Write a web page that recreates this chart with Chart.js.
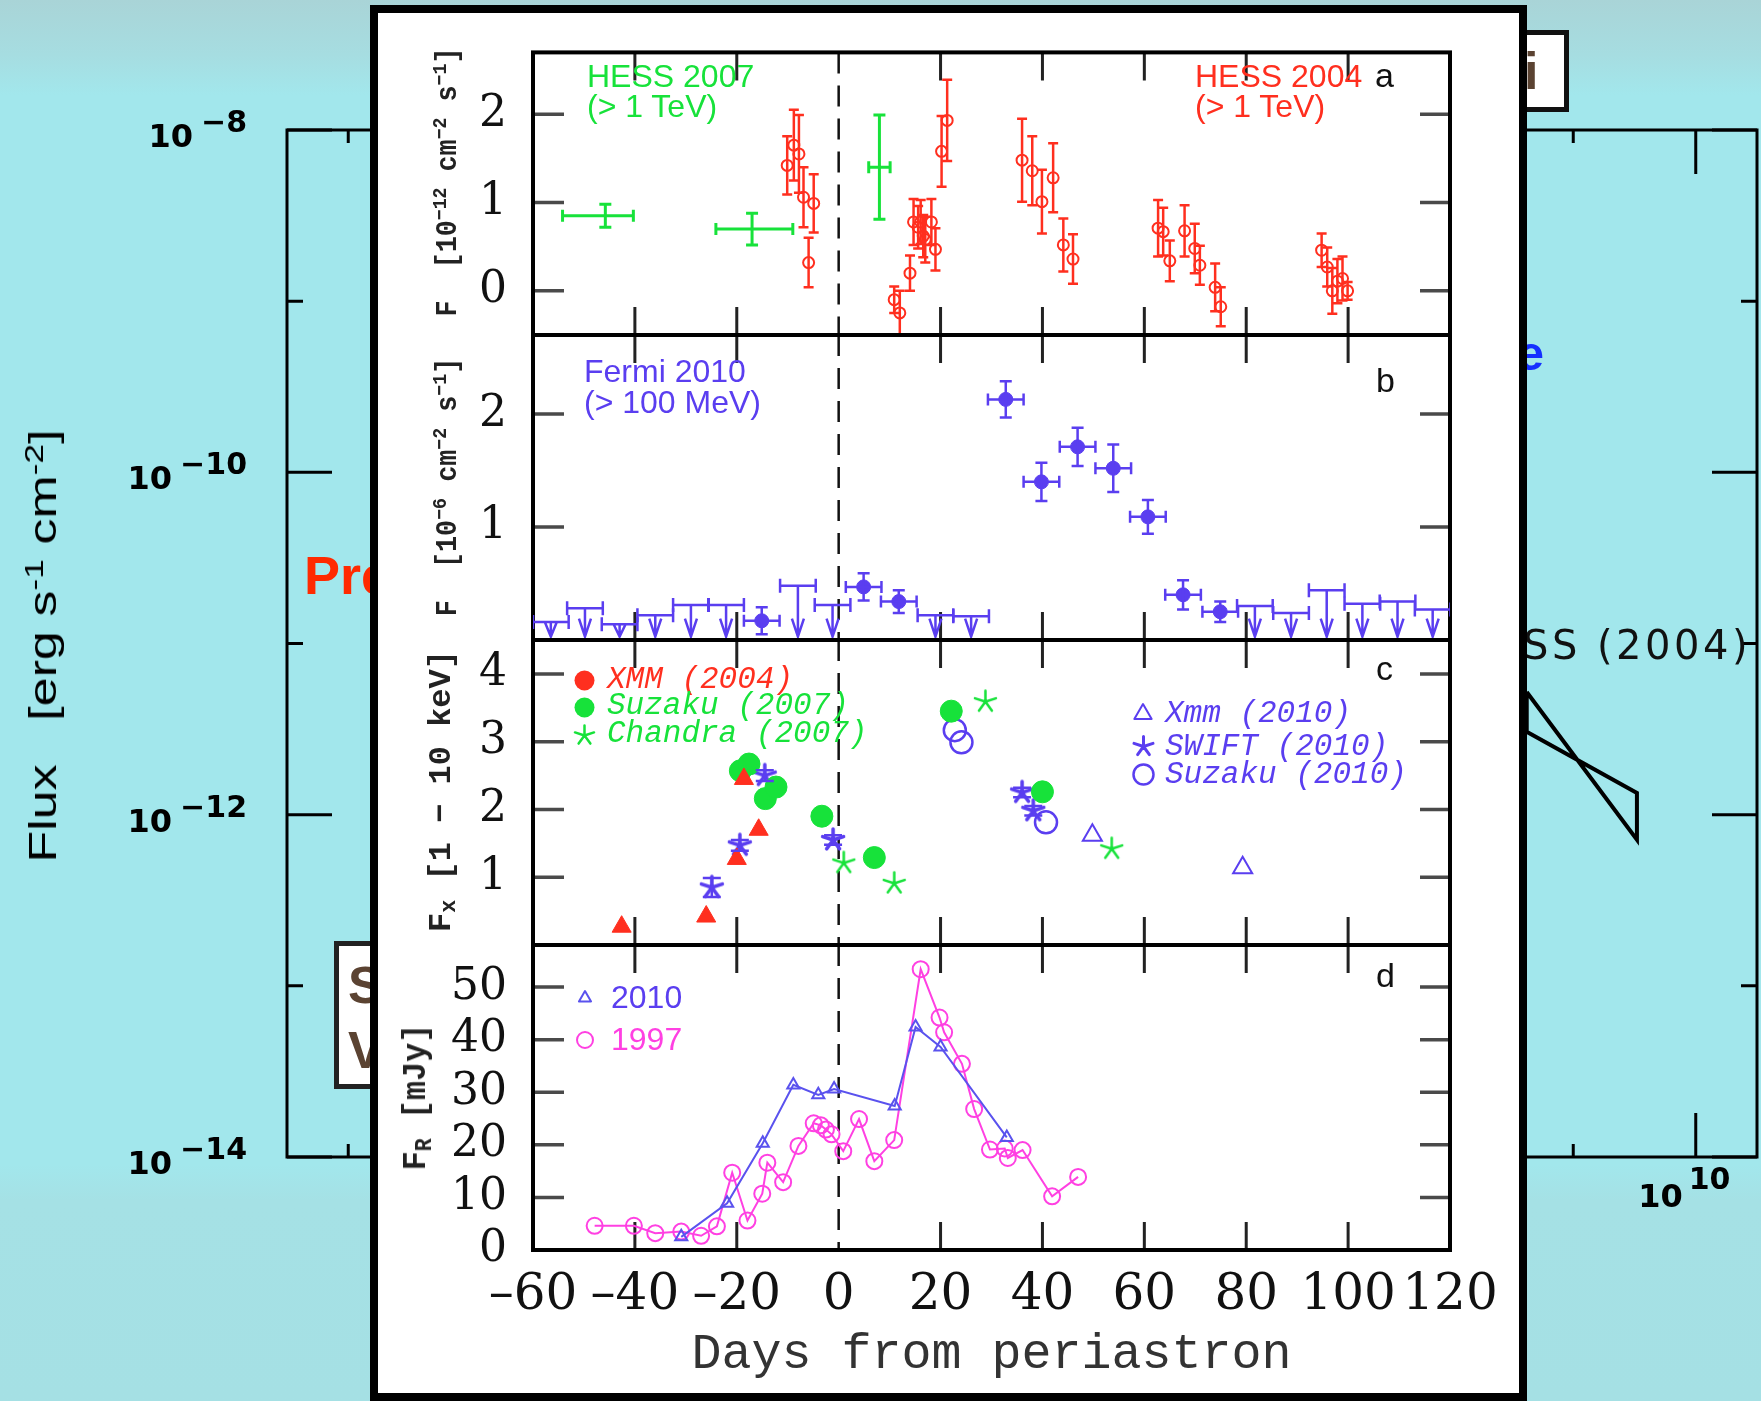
<!DOCTYPE html>
<html>
<head>
<meta charset="utf-8">
<title>PSR B1259-63 around periastron</title>
<script src="https://cdn.jsdelivr.net/npm/chart.js"></script>
<style>
  html, body { margin: 0; padding: 0; }
  body {
    width: 1761px; height: 1401px; overflow: hidden; position: relative;
    background: linear-gradient(#a9d4d7 0px, #a6dde1 55px, #a2e7ec 95px, #a2e7ec 1165px, #a5e1e5 1200px, #a5e0e4 1401px);
  }
  canvas { position: absolute; left: 0; top: 0; }
  .t { position: absolute; white-space: nowrap; }
  .panel { position: absolute; left: 370px; top: 5px; width: 1157px; height: 1396px;
           box-sizing: border-box; border: 8px solid #000; background: #fff; z-index: 5; }
  .box { position: absolute; box-sizing: border-box; background: #fff; z-index: 2; }
  sup { font-size: 68%; vertical-align: 0.5em; line-height: 0; }
  sub { font-size: 68%; vertical-align: -0.25em; line-height: 0; }
</style>
</head>

<body>
  <canvas id="sed" width="1761" height="1401" style="z-index:1"></canvas>
  <div class="box" style="left:334px;top:941px;width:200px;height:148px;border:5px solid #222"></div>
  <div class="box" style="left:1400px;top:30px;width:169px;height:82px;border:5px solid #111"></div>
  <div class="panel"></div>
  <canvas id="pa" width="1761" height="1401" style="z-index:6"></canvas>
  <canvas id="pb" width="1761" height="1401" style="z-index:6"></canvas>
  <canvas id="pc" width="1761" height="1401" style="z-index:6"></canvas>
  <canvas id="pd" width="1761" height="1401" style="z-index:6"></canvas>

<script>
// ---- background SED frame (mostly hidden behind the light curves) ----
const sedYDecades = [-14, -13, -12, -11, -10, -9, -8];
const sedXDecades = [-1, 0, 1, 2, 3, 4, 5, 6, 7, 8, 9, 10];
const sedYLabels = [-8, -10, -12, -14];
const sedXLabels = [10];
// HESS (2004) bow-tie, energy vs flux
const bowE = [4.17e8, 3.31e9, 3.31e9, 4.17e8, 4.17e8];
const bowF = [5.21e-12, 7.13e-13, 1.34e-12, 3.05e-12, 5.21e-12];

// ---- light curves ----
const dayTicks = [-60, -40, -20, 0, 20, 40, 60, 80, 100, 120];

// a: TeV
const hess07Day = [-45.8, -17.0, 8.0];
const hess07Lo = [-54.2, -24.1, 5.9];
const hess07Hi = [-40.3, -9.0, 10.1];
const hess07F = [0.85, 0.70, 1.40];
const hess07Err = [0.13, 0.18, 0.59];

const hess04Day = [-10.1, -8.8, -7.8, -6.9, -5.9, -4.9, 10.9, 12.0, 14.0, 14.7, 15.6, 16.1, 16.6, 17.0, 18.2, 19.0,
  20.2, 21.3, 36.0, 38.0, 39.9, 42.1, 44.1, 46.0, 62.7, 63.7, 65.0, 67.9, 69.9, 70.9, 73.9, 75.0,
  94.8, 95.9, 96.9, 97.9, 98.9, 99.9];
const hess04F = [1.42, 1.65, 1.55, 1.06, 0.32, 0.99, -0.10, -0.25, 0.20, 0.78, 0.72, 0.78, 0.62, 0.58, 0.78, 0.47,
  1.58, 1.93, 1.48, 1.36, 1.01, 1.28, 0.52, 0.36, 0.71, 0.67, 0.34, 0.68, 0.48, 0.29, 0.04, -0.18,
  0.46, 0.27, 0.00, 0.11, 0.14, 0.00];
const hess04Err = [0.33, 0.40, 0.44, 0.34, 0.28, 0.33, 0.15, 0.25, 0.20, 0.26, 0.24, 0.25, 0.24, 0.26, 0.26, 0.24,
  0.40, 0.46, 0.47, 0.39, 0.36, 0.39, 0.30, 0.28, 0.32, 0.27, 0.23, 0.29, 0.28, 0.22, 0.27, 0.22,
  0.19, 0.22, 0.26, 0.25, 0.25, 0.10];

// b: Fermi
const fermiHalfBin = 3.5;
const fermiDay = [-15.1, 4.9, 11.8, 32.8, 39.8, 46.9, 53.9, 60.7, 67.6, 74.9];
const fermiF = [0.17, 0.47, 0.34, 2.13, 1.40, 1.71, 1.52, 1.09, 0.40, 0.25];
const fermiErr = [0.12, 0.12, 0.10, 0.16, 0.17, 0.17, 0.21, 0.15, 0.13, 0.09];
const fermiUlDay = [-56.5, -49.8, -43.0, -36.0, -29.0, -22.1, -8.0, -1.2, 19.0, 26.0, 81.7, 88.8, 95.8, 102.8, 109.7, 116.6];
const fermiUl = [0.16, 0.28, 0.14, 0.22, 0.31, 0.31, 0.48, 0.31, 0.22, 0.21, 0.30, 0.24, 0.44, 0.32, 0.34, 0.27];

// c: X-rays
const xmm04Day = [-42.6, -26.0, -20.0, -18.6, -15.7];
const xmm04F = [0.27, 0.42, 1.27, 2.45, 1.70];
const suz07Day = [-19.3, -17.6, -14.4, -12.3, -3.3, 7.0, 22.1, 40.0];
const suz07F = [2.57, 2.67, 2.16, 2.33, 1.90, 1.29, 3.45, 2.26];
const cha07Day = [1.0, 10.9, 28.8, 53.6];
const cha07F = [1.21, 0.91, 3.59, 1.42];
const xmm10Day = [49.8, 79.3];
const xmm10F = [1.62, 1.14];
const swiftDay = [-24.9, -19.4, -14.5, -1.1, 36.0, 38.2];
const swiftF = [0.85, 1.47, 2.50, 1.55, 2.25, 1.98];
const swiftErr = [0.14, 0.08, 0.08, 0.07, 0.07, 0.07];
const suz10Day = [22.8, 24.1, 40.7];
const suz10F = [3.17, 2.99, 1.81];

// d: radio
const r10Day = [-30.9, -21.9, -14.9, -8.9, -4.0, -0.9, 11.0, 15.1, 20.0, 33.0];
const r10F = [2.5, 8.9, 20.3, 31.4, 29.5, 30.6, 27.4, 42.4, 38.6, 21.4];
const r97Day = [-47.9, -40.2, -36.0, -30.9, -27.0, -23.9, -20.9, -17.9, -15.0, -14.0, -10.9, -7.9, -4.9, -3.5, -2.5,
  -1.4, 0.9, 4.0, 7.0, 10.9, 16.1, 19.8, 20.7, 24.2, 26.6, 29.7, 32.6, 33.2, 36.1, 41.9, 47.0];
const r97F = [4.6, 4.6, 3.2, 3.5, 2.7, 4.5, 14.7, 5.6, 10.7, 16.6, 12.9, 19.8, 24.1, 23.7, 22.9,
  22.0, 18.8, 24.9, 16.9, 20.9, 53.4, 44.2, 41.4, 35.4, 26.8, 19.1, 19.3, 17.5, 19.0, 10.2, 13.9];

const RED = '#ff2f1f', GREEN = '#17e23a', BLUE = '#5a3ef0', MAGENTA = '#ff40e2', LINE10 = '#5a52ee';

function pts(xs, ys) { return xs.map((x, i) => ({ x: x, y: ys[i] })); }

function markerCanvas(kind, color, r, lw) {
  const s = Math.ceil(2 * r + lw + 4);
  const c = document.createElement('canvas');
  c.width = s; c.height = s;
  const g = c.getContext('2d');
  const m = s / 2;
  g.fillStyle = color; g.strokeStyle = color; g.lineWidth = lw; g.lineJoin = 'round'; g.lineCap = 'round';
  g.beginPath();
  if (kind === 'star') {
    for (let k = 0; k < 5; k++) {
      const a = -Math.PI / 2 + k * 2 * Math.PI / 5;
      g.moveTo(m, m); g.lineTo(m + r * Math.cos(a), m + r * Math.sin(a));
    }
    g.stroke();
  } else if (kind === 'dot' || kind === 'ring') {
    g.arc(m, m, r, 0, 2 * Math.PI);
    if (kind === 'dot') g.fill(); else g.stroke();
  } else {
    g.moveTo(m, m - r); g.lineTo(m + r * 0.866, m + r / 2); g.lineTo(m - r * 0.866, m + r / 2); g.closePath();
    if (kind === 'tri') g.fill(); else g.stroke();
  }
  return c;
}

// ---------- plugins ----------
const sedFrame = {
  id: 'sedFrame',
  beforeDatasetsDraw(chart) {
    const { ctx, chartArea: a, scales: { x, y } } = chart;
    ctx.save();
    ctx.strokeStyle = '#000'; ctx.lineWidth = 3;
    ctx.strokeRect(a.left, a.top, a.right - a.left, a.bottom - a.top);
    ctx.beginPath();
    sedYDecades.forEach(e => {
      const py = y.getPixelForValue(10 ** e), len = e % 2 === 0 ? 45 : 16;
      ctx.moveTo(a.left, py); ctx.lineTo(a.left + len, py);
      ctx.moveTo(a.right, py); ctx.lineTo(a.right - len, py);
    });
    sedXDecades.forEach(e => {
      const px = x.getPixelForValue(10 ** e), len = e % 2 === 0 ? 44 : 13;
      ctx.moveTo(px, a.top); ctx.lineTo(px, a.top + len);
      ctx.moveTo(px, a.bottom); ctx.lineTo(px, a.bottom - len);
    });
    ctx.stroke();
    ctx.fillStyle = '#000';
    ctx.textBaseline = 'alphabetic';
    sedYLabels.forEach(e => {
      const py = y.getPixelForValue(10 ** e);
      const ex = '\u2212' + Math.abs(e);
      ctx.font = 'bold 30px "DejaVu Sans"';
      ctx.textAlign = 'right';
      ctx.fillText(ex, a.left - 40, py + 2);
      const w = ctx.measureText(ex).width;
      ctx.font = 'bold 32px "DejaVu Sans"';
      ctx.fillText('10', a.left - 40 - w - 8, py + 17);
    });
    sedXLabels.forEach(e => {
      const px = x.getPixelForValue(10 ** e);
      ctx.font = 'bold 32px "DejaVu Sans"';
      ctx.textAlign = 'right';
      ctx.fillText('10', px - 13, a.bottom + 50);
      ctx.font = 'bold 30px "DejaVu Sans"';
      ctx.textAlign = 'left';
      ctx.fillText(String(e), px - 7, a.bottom + 32);
    });
    ctx.restore();
  }
};

const frame = {
  id: 'frame',
  beforeDatasetsDraw(chart) {
    const { ctx, chartArea: a, scales: { x, y } } = chart;
    ctx.save();
    ctx.strokeStyle = '#4a4a4a'; ctx.lineWidth = 3.5;
    ctx.beginPath();
    y.ticks.forEach(t => {
      const py = y.getPixelForValue(t.value);
      ctx.moveTo(a.left, py); ctx.lineTo(a.left + 31, py);
      ctx.moveTo(a.right, py); ctx.lineTo(a.right - 30, py);
    });
    ctx.stroke();
    ctx.strokeStyle = '#222'; ctx.lineWidth = 3;
    ctx.beginPath();
    dayTicks.forEach(d => {
      if (d === 0) return;
      const px = x.getPixelForValue(d);
      ctx.moveTo(px, a.top); ctx.lineTo(px, a.top + 28);
      ctx.moveTo(px, a.bottom); ctx.lineTo(px, a.bottom - 28);
    });
    ctx.stroke();
    // periastron
    const p0 = x.getPixelForValue(0);
    ctx.setLineDash([21, 12]); ctx.lineWidth = 2.5; ctx.strokeStyle = '#111';
    ctx.beginPath(); ctx.moveTo(p0, a.top); ctx.lineTo(p0, a.bottom); ctx.stroke();
    ctx.setLineDash([]);
    ctx.strokeStyle = '#000'; ctx.lineWidth = 4;
    ctx.strokeRect(a.left, a.top, a.right - a.left, a.bottom - a.top);
    ctx.restore();
  }
};

const errorBars = {
  id: 'errorBars',
  afterDatasetsDraw(chart) {
    const { ctx, chartArea: a, scales: { x, y } } = chart;
    ctx.save();
    ctx.beginPath(); ctx.rect(a.left, a.top, a.right - a.left, a.bottom - a.top); ctx.clip();
    chart.data.datasets.forEach(ds => {
      const e = ds.errors;
      if (!e) return;
      ctx.strokeStyle = ds.borderColor; ctx.lineWidth = e.width || 2;
      const cap = e.cap || 5;
      ds.data.forEach((p, i) => {
        const px = x.getPixelForValue(p.x), py = y.getPixelForValue(p.y);
        ctx.beginPath();
        if (e.y) {
          const t = y.getPixelForValue(p.y + e.y[i]), b = y.getPixelForValue(p.y - e.y[i]);
          ctx.moveTo(px, t); ctx.lineTo(px, b);
          ctx.moveTo(px - cap, t); ctx.lineTo(px + cap, t);
          ctx.moveTo(px - cap, b); ctx.lineTo(px + cap, b);
        }
        if (e.xLo) {
          const l = x.getPixelForValue(e.xLo[i]), r = x.getPixelForValue(e.xHi[i]);
          ctx.moveTo(l, py); ctx.lineTo(r, py);
          ctx.moveTo(l, py - cap); ctx.lineTo(l, py + cap);
          ctx.moveTo(r, py - cap); ctx.lineTo(r, py + cap);
        }
        if (e.down != null) {
          const tip = y.getPixelForValue(e.down);
          const h = Math.min(18, tip - py);
          ctx.moveTo(px, py); ctx.lineTo(px, tip);
          ctx.moveTo(px - 6, tip - h); ctx.lineTo(px, tip); ctx.lineTo(px + 6, tip - h);
        }
        ctx.stroke();
      });
    });
    ctx.restore();
  }
};

// ---------- background SED chart ----------
new Chart(document.getElementById('sed'), {
  type: 'scatter',
  data: {
    datasets: [{
      label: 'HESS (2004)',
      data: pts(bowE, bowF),
      showLine: true, borderColor: '#000', borderWidth: 4, pointRadius: 0
    }]
  },
  options: {
    responsive: false, animation: false, devicePixelRatio: 1,
    layout: { padding: { left: 287, right: 4, top: 130, bottom: 244 } },
    plugins: { legend: { display: false }, tooltip: { enabled: false } },
    scales: {
      x: { type: 'logarithmic', min: 10 ** -1.5, max: 10 ** 10.5, display: false },
      y: { type: 'logarithmic', min: 1e-14, max: 1e-8, display: false }
    }
  },
  plugins: [sedFrame]
});

// ---------- light-curve panels ----------
const PLOT_LEFT = 533, PLOT_RIGHT = 1450, W = 1761, H = 1401;

function panel(id, top, bottom, yMin, yMax, step, showZero, datasets, withX) {
  const xScale = withX ? {
    type: 'linear', min: -60, max: 120,
    afterFit: s => { s.height = H - bottom; },
    grid: { display: false, drawTicks: false }, border: { display: false },
    ticks: {
      stepSize: 20, autoSkip: false, maxRotation: 0, padding: 16, color: '#111',
      font: { family: 'DejaVu Serif', size: 50 },
      callback: v => v < 0 ? '\u2013' + Math.abs(v) : String(v)
    },
    title: {
      display: true, text: 'Days from periastron', color: '#333',
      font: { family: 'Liberation Mono', size: 50 }, padding: { top: 0, bottom: 16 }
    }
  } : { type: 'linear', min: -60, max: 120, display: false };

  return new Chart(document.getElementById(id), {
    type: 'scatter',
    data: { datasets: datasets },
    options: {
      responsive: false, animation: false, devicePixelRatio: 1,
      layout: { padding: { left: 0, right: W - PLOT_RIGHT, top: top, bottom: withX ? 0 : H - bottom } },
      plugins: { legend: { display: false }, tooltip: { enabled: false } },
      scales: {
        x: xScale,
        y: {
          type: 'linear', min: yMin, max: yMax,
          afterFit: s => { s.width = PLOT_LEFT; },
          grid: { display: false, drawTicks: false }, border: { display: false },
          ticks: {
            stepSize: step, includeBounds: false, padding: 26, color: '#111',
            font: { family: 'DejaVu Serif', size: 44 },
            callback: v => (showZero || v !== 0) ? String(v) : ''
          }
        }
      }
    },
    plugins: [frame, errorBars]
  });
}

panel('pa', 29, 335, -0.5, 2.7, 1, true, [
  {
    label: 'HESS 2004', data: pts(hess04Day, hess04F),
    borderColor: RED, backgroundColor: 'rgba(0,0,0,0)', pointRadius: 5.5, borderWidth: 2,
    errors: { y: hess04Err, cap: 5, width: 2.5 }
  },
  {
    label: 'HESS 2007', data: pts(hess07Day, hess07F),
    borderColor: GREEN, pointRadius: 0,
    errors: { y: hess07Err, xLo: hess07Lo, xHi: hess07Hi, cap: 6, width: 3 }
  }
], false);

panel('pb', 335, 640, 0, 2.7, 1, false, [
  {
    label: 'Fermi 2010', data: pts(fermiDay, fermiF),
    borderColor: BLUE, backgroundColor: BLUE, pointRadius: 7,
    errors: {
      y: fermiErr, xLo: fermiDay.map(d => d - fermiHalfBin), xHi: fermiDay.map(d => d + fermiHalfBin),
      cap: 6, width: 2.5
    }
  },
  {
    label: 'Fermi 2010 upper limits', data: pts(fermiUlDay, fermiUl),
    borderColor: BLUE, pointRadius: 0,
    errors: {
      xLo: fermiUlDay.map(d => d - fermiHalfBin), xHi: fermiUlDay.map(d => d + fermiHalfBin),
      cap: 7, width: 2.5, down: 0.03
    }
  }
], false);

panel('pc', 640, 945, 0, 4.5, 1, false, [
  { label: 'XMM (2004)', data: pts(xmm04Day, xmm04F), pointStyle: 'triangle', pointRadius: 11,
    backgroundColor: RED, borderColor: RED, borderWidth: 1 },
  { label: 'Suzaku (2007)', data: pts(suz07Day, suz07F), pointStyle: 'circle', pointRadius: 11,
    backgroundColor: GREEN, borderColor: GREEN, borderWidth: 1 },
  { label: 'Chandra (2007)', data: pts(cha07Day, cha07F), pointStyle: markerCanvas('star', GREEN, 11, 2.5),
    borderColor: GREEN },
  { label: 'Xmm (2010)', data: pts(xmm10Day, xmm10F), pointStyle: 'triangle', pointRadius: 11,
    backgroundColor: 'rgba(0,0,0,0)', borderColor: BLUE, borderWidth: 2 },
  { label: 'SWIFT (2010)', data: pts(swiftDay, swiftF), pointStyle: markerCanvas('star', BLUE, 11, 3.5),
    borderColor: BLUE, errors: { y: swiftErr, cap: 9, width: 2.5 } },
  { label: 'Suzaku (2010)', data: pts(suz10Day, suz10F), pointStyle: 'circle', pointRadius: 11,
    backgroundColor: 'rgba(0,0,0,0)', borderColor: BLUE, borderWidth: 2.5 }
], false);

panel('pd', 945, 1250, 0, 58, 10, true, [
  { label: '2010', data: pts(r10Day, r10F), showLine: true, borderColor: LINE10, borderWidth: 2,
    pointStyle: 'triangle', pointRadius: 7, pointBorderWidth: 2, backgroundColor: 'rgba(0,0,0,0)' },
  { label: '1997', data: pts(r97Day, r97F), showLine: true, borderColor: MAGENTA, borderWidth: 2,
    pointStyle: 'circle', pointRadius: 8, pointBorderWidth: 2, backgroundColor: 'rgba(0,0,0,0)' }
], true);

// ---------- text ----------
const BASE = { 'Liberation Sans': 0.847, 'Liberation Mono': 0.767, 'DejaVu Sans': 0.846 };

function label(text, x, base, o) {
  const el = document.createElement('div');
  el.className = 't';
  el.textContent = text;
  const fam = o.family || 'Liberation Sans';
  el.style.font = (o.style || 'normal') + ' ' + (o.weight || 'normal') + ' ' + o.size + 'px "' + fam + '"';
  el.style.lineHeight = '1';
  el.style.color = o.color || '#000';
  el.style.top = (base - BASE[fam] * o.size) + 'px';
  if (o.align === 'right') el.style.right = (W - x) + 'px'; else el.style.left = x + 'px';
  if (o.spacing) el.style.letterSpacing = o.spacing + 'px';
  el.style.zIndex = o.z || 8;
  document.body.appendChild(el);
}

function vtitle(html, cx, cy, len, font, color, z) {
  const el = document.createElement('div');
  el.className = 't';
  el.innerHTML = html;
  el.style.font = font;
  el.style.lineHeight = '1';
  el.style.color = color;
  el.style.left = cx + 'px'; el.style.top = cy + 'px';
  el.style.zIndex = z;
  document.body.appendChild(el);
  const w = el.offsetWidth;
  el.style.transform = 'translate(-50%, -50%) rotate(-90deg) scaleX(' + (len / w).toFixed(3) + ')';
}

function legendMark(kind, color, r, lw, cx, cy) {
  const c = markerCanvas(kind, color, r, lw);
  c.style.left = (cx - c.width / 2) + 'px';
  c.style.top = (cy - c.height / 2) + 'px';
  c.style.zIndex = 8;
  document.body.appendChild(c);
}

// background slide
label('Pre', 304, 594, { size: 54, weight: 'bold', color: '#ff2a00', z: 2 });
label('S', 348, 1003, { size: 52, weight: 'bold', color: '#5b4332', z: 3 });
label('V', 348, 1068, { size: 52, weight: 'bold', color: '#5b4332', z: 3 });
label('i', 1524, 89, { size: 52, weight: 'bold', color: '#5b4332', z: 3 });
label('e', 1544, 371, { size: 48, weight: 'bold', color: '#1530ff', align: 'right', z: 2 });
label('HESS (2004)', 1751, 659, { size: 40, family: 'DejaVu Sans', color: '#111', align: 'right', spacing: 3.5, z: 2 });
vtitle('Flux&nbsp;&nbsp;&nbsp;[erg s<sup>-1</sup> cm<sup>-2</sup>]', 43, 646, 433, 'normal 38px "Liberation Sans"', '#000', 2);

// panel a
label('HESS 2007', 587, 87, { size: 32, color: GREEN });
label('(> 1 TeV)', 587, 117, { size: 32, color: GREEN });
label('HESS 2004', 1195, 87, { size: 32, color: RED });
label('(> 1 TeV)', 1195, 117, { size: 32, color: RED });
label('a', 1375, 87, { size: 34, color: '#111' });
vtitle('F&nbsp;&nbsp;[10<sup>\u221212</sup> cm<sup>\u22122</sup> s<sup>\u22121</sup>]', 448, 182, 269,
  'bold 30px "Liberation Mono"', '#222', 8);

// panel b
label('Fermi 2010', 584, 382, { size: 32, color: BLUE });
label('(> 100 MeV)', 584, 413, { size: 32, color: BLUE });
label('b', 1376, 392, { size: 34, color: '#111' });
vtitle('F&nbsp;&nbsp;[10<sup>\u22126</sup> cm<sup>\u22122</sup> s<sup>\u22121</sup>]', 448, 487, 259,
  'bold 30px "Liberation Mono"', '#222', 8);

// panel c
label('c', 1376, 680, { size: 34, color: '#111' });
legendMark('dot', RED, 10, 1, 584, 680);
legendMark('dot', GREEN, 10, 1, 584, 707);
legendMark('star', GREEN, 10, 2.5, 584, 735);
label('XMM (2004)', 607, 688, { size: 31, family: 'Liberation Mono', style: 'italic', color: RED });
label('Suzaku (2007)', 607, 714, { size: 31, family: 'Liberation Mono', style: 'italic', color: GREEN });
label('Chandra (2007)', 607, 742, { size: 31, family: 'Liberation Mono', style: 'italic', color: GREEN });
legendMark('triO', BLUE, 10, 2, 1143, 714);
legendMark('star', BLUE, 10, 3, 1143, 746);
legendMark('ring', BLUE, 10, 2.5, 1143, 774);
label('Xmm (2010)', 1165, 722, { size: 31, family: 'Liberation Mono', style: 'italic', color: BLUE });
label('SWIFT (2010)', 1165, 755, { size: 31, family: 'Liberation Mono', style: 'italic', color: BLUE });
label('Suzaku (2010)', 1165, 783, { size: 31, family: 'Liberation Mono', style: 'italic', color: BLUE });
vtitle('F<sub>x</sub> [1 \u2212 10 keV]', 442, 791, 282, 'bold 32px "Liberation Mono"', '#222', 8);

// panel d
label('d', 1376, 987, { size: 34, color: '#111' });
legendMark('triO', LINE10, 7, 2, 585, 998);
legendMark('ring', MAGENTA, 8, 2, 585, 1040);
label('2010', 611, 1008, { size: 32, color: BLUE });
label('1997', 611, 1050, { size: 32, color: MAGENTA });
vtitle('F<sub>R</sub> [mJy]', 416, 1097, 147, 'bold 34px "Liberation Mono"', '#222', 8);
</script>
</body>
</html>
